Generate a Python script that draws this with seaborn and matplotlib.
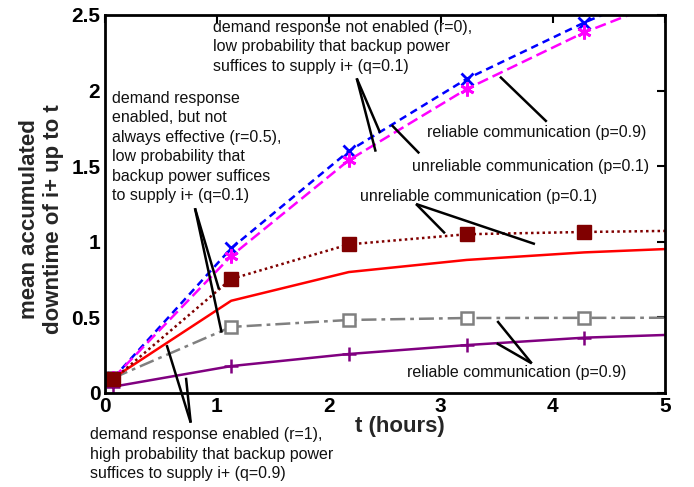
import matplotlib
matplotlib.use("Agg")
import matplotlib.pyplot as plt
import seaborn as sns
import pandas as pd

# time grid (hours); last point lies past the visible range and is clipped
t = [0.08, 1.13, 2.18, 3.23, 4.28, 5.33]

# mean accumulated downtime of i+ for each scenario
dr_off_reliable = [0.10, 0.957, 1.60, 2.077, 2.45, 2.78]       # r=0, q=0.1, p=0.9
dr_off_unreliable = [0.10, 0.906, 1.54, 2.01, 2.385, 2.69]     # r=0, q=0.1, p=0.1
dr_half_unreliable = [0.09, 0.754, 0.983, 1.05, 1.065, 1.075]  # r=0.5, q=0.1, p=0.1
dr_half_reliable = [0.10, 0.61, 0.80, 0.88, 0.93, 0.962]       # r=0.5, q=0.1, p=0.9
dr_full_unreliable = [0.10, 0.437, 0.483, 0.496, 0.497, 0.498] # r=1, q=0.9, p=0.1
dr_full_reliable = [0.042, 0.178, 0.258, 0.317, 0.366, 0.392]  # r=1, q=0.9, p=0.9

x_ticks = [0, 1, 2, 3, 4, 5]
y_ticks = [0, 0.5, 1, 1.5, 2, 2.5]
y_tick_labels = ["0", "0.5", "1", "1.5", "2", "2.5"]

sns.set_theme(style="white")
plt.rcParams["font.family"] = ["Liberation Sans", "DejaVu Sans"]

fig = plt.figure(figsize=(6.94, 4.87), dpi=100)
ax = fig.add_axes([104.5 / 694, 1 - 393 / 487, 560.5 / 694, 378 / 487])

# drawing order: lowest curves first, filled squares last so they sit on top
series = [
    (dr_full_reliable, dict(color="#800080", linestyle="-", marker="+",
                            markersize=10, markeredgewidth=1.8,
                            markeredgecolor="#800080")),
    (dr_full_unreliable, dict(color="#808080", linestyle=(0, (6, 2, 1.5, 2)), marker="s",
                              markersize=8, markerfacecolor="white",
                              markeredgecolor="#808080", markeredgewidth=1.8)),
    (dr_half_reliable, dict(color="#FF0000", linestyle="-")),
    (dr_off_reliable, dict(color="#0000FF", linestyle=(0, (3, 2)), marker="x",
                           markersize=9, markeredgewidth=2, markeredgecolor="#0000FF")),
    (dr_off_unreliable, dict(color="#FF00FF", linestyle=(0, (4.5, 2)), marker=(6, 2, 0),
                             markersize=10, markeredgewidth=2,
                             markeredgecolor="#FF00FF")),
    (dr_half_unreliable, dict(color="#800000", linestyle=(0, (1, 1.3)), marker="s",
                              markersize=9.5, markeredgecolor="#800000",
                              markerfacecolor="#800000", markeredgewidth=1)),
]

for values, style in series:
    df = pd.DataFrame({"t": t, "downtime": values})
    sns.lineplot(data=df, x="t", y="downtime", ax=ax, linewidth=1.8,
                 estimator=None, sort=False, **style)

ax.set_xlim(0, 5)
ax.set_ylim(0, 2.5)
ax.set_xticks(x_ticks)
ax.set_xticklabels([str(v) for v in x_ticks])
ax.set_yticks(y_ticks)
ax.set_yticklabels(y_tick_labels)
ax.tick_params(direction="in", length=6, width=1.5, top=True, right=True,
               labelsize=15, pad=3, colors="black")
for lab in ax.get_xticklabels() + ax.get_yticklabels():
    lab.set_fontweight("bold")
for sp in ax.spines.values():
    sp.set_linewidth(2)
    sp.set_color("black")

ax.set_xlabel("t (hours)", fontsize=16, fontweight="bold")
ax.xaxis.set_label_coords(0.527, -0.062)
ax.set_ylabel("mean accumulated\ndowntime of i+ up to t", fontsize=16,
              fontweight="bold")
ax.yaxis.set_label_coords(-0.072, 0.46)

txt = dict(fontsize=11.5, color="#111111", clip_on=False, linespacing=1.38)
seg = dict(color="black", linewidth=1.8, clip_on=False, solid_capstyle="butt")


def callout(apex, ends):
    for end in ends:
        ax.plot([apex[0], end[0]], [apex[1], end[1]], **seg)


ax.text(0.965, 2.47, "demand response not enabled (r=0),\nlow probability that backup power\n"
        "suffices to supply i+ (q=0.1)", va="top", ha="left", **txt)
callout((2.25, 2.081), [(2.458, 1.722), (2.419, 1.596)])

ax.text(0.064, 2.0, "demand response\nenabled, but not\nalways effective (r=0.5),\n"
        "low probability that\nbackup power suffices\nto supply i+ (q=0.1)",
        va="top", ha="left", **txt)
callout((0.807, 1.222), [(1.021, 0.686), (1.045, 0.399)])

ax.text(-0.129, -0.225, "demand response enabled (r=1),\nhigh probability that backup power\n"
        "suffices to supply i+ (q=0.9)", va="top", ha="left", **txt)
callout((0.769, -0.196), [(0.555, 0.317), (0.727, 0.101)])

ax.text(2.874, 1.722, "reliable communication (p=0.9)", va="center", ha="left", **txt)
callout((3.945, 1.794), [(3.528, 2.092)])

ax.text(2.740, 1.497, "unreliable communication (p=0.1)", va="center", ha="left", **txt)
callout((2.808, 1.585), [(2.562, 1.772)])

ax.text(2.279, 1.298, "unreliable communication (p=0.1)", va="center", ha="left", **txt)
callout((2.779, 1.25), [(3.037, 1.056), (3.84, 0.985)])

ax.text(2.696, 0.134, "reliable communication (p=0.9)", va="center", ha="left", **txt)
callout((3.811, 0.196), [(3.504, 0.476), (3.499, 0.329)])

fig.savefig("out.png", dpi=100)
